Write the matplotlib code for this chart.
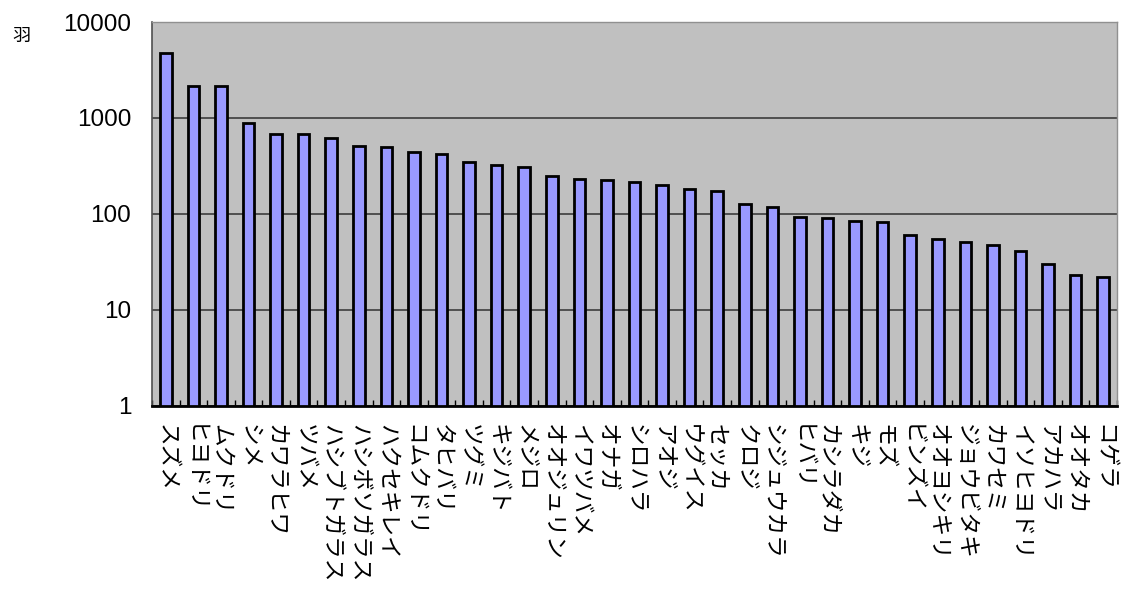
import numpy as np
import matplotlib
matplotlib.use('Agg')
import matplotlib.pyplot as plt
from matplotlib.ticker import FixedLocator, NullFormatter

# species names (x categories) and counts (birds)
species = ['スズメ', 'ヒヨドリ', 'ムクドリ', 'シメ', 'カワラヒワ', 'ツバメ',
           'ハシブトガラス', 'ハシボソガラス', 'ハクセキレイ', 'コムクドリ',
           'タヒバリ', 'ツグミ', 'キジバト', 'メジロ', 'オオジュリン',
           'イワツバメ', 'オナガ', 'シロハラ', 'アオジ', 'ウグイス', 'セッカ',
           'クロジ', 'シジュウカラ', 'ヒバリ', 'カシラダカ', 'キジ', 'モズ',
           'ビンズイ', 'オオヨシキリ', 'ジョウビタキ', 'カワセミ',
           'イソヒヨドリ', 'アカハラ', 'オオタカ', 'コゲラ']
counts = [4750, 2170, 2170, 880, 676, 676, 619, 516, 499, 439, 416, 351,
          322, 309, 247, 230, 224, 212, 201, 181, 172, 126, 117, 92, 90,
          83, 82, 59, 54, 50, 46, 40, 29, 22, 21]
yticks = [1, 10, 100, 1000, 10000]
ylabel = '羽'

fig = plt.figure(figsize=(11.23, 5.90), dpi=100)
ax = fig.add_axes([0.1354, 0.3119, 0.8593, 0.6508])
ax.set_facecolor('#c0c0c0')

x = np.arange(len(species))
ax.bar(x, counts, width=0.42, bottom=1, color='#9999ff',
       edgecolor='black', linewidth=2, zorder=3)

ax.set_yscale('log')
ax.set_ylim(1, 10000)
ax.set_xlim(-0.5, len(species) - 0.5)

ax.yaxis.set_major_locator(FixedLocator(yticks))
ax.yaxis.set_minor_locator(FixedLocator([]))
ax.set_yticklabels([str(v) for v in yticks], fontsize=17.5,
                   family='Liberation Sans')
ax.tick_params(axis='y', length=0, pad=15)
ax.grid(axis='y', color='#3c3c3c', linewidth=1.2, zorder=1)

ax.set_xticks(x)
ax.set_xticklabels(species, rotation=-90, ha='center', va='top',
                   fontsize=16.3, family=['Noto Sans CJK JP', 'DejaVu Sans'])
ax.tick_params(axis='x', which='major', length=0, pad=13)
ax.xaxis.set_minor_locator(FixedLocator(np.arange(len(species) + 1) - 0.5))
ax.xaxis.set_minor_formatter(NullFormatter())
ax.tick_params(axis='x', which='minor', direction='in', length=4,
               width=1, color='black', bottom=True)

for s in ['top', 'right']:
    ax.spines[s].set_color('#909090')
    ax.spines[s].set_linewidth(1)
ax.spines['left'].set_color('#505050')
ax.spines['left'].set_linewidth(1.2)
ax.spines['bottom'].set_color('black')
ax.spines['bottom'].set_linewidth(2)

fig.text(21 / 1123, 1 - 36 / 590, ylabel, fontsize=13, ha='center',
         va='center', family=['Noto Sans CJK JP', 'DejaVu Sans'])

fig.savefig('out.png', dpi=100)
